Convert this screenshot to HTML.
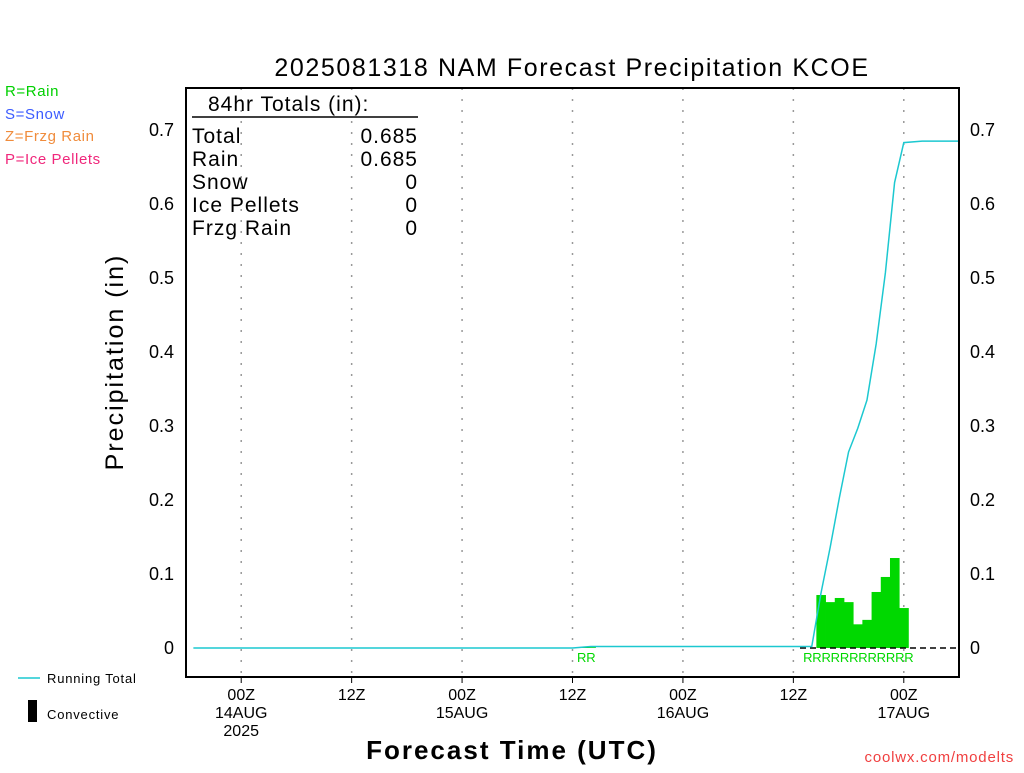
<!DOCTYPE html>
<html><head><meta charset="utf-8"><style>
body{margin:0;background:#fff;}
svg text{font-family:"Liberation Sans",sans-serif;}
</style></head><body>
<svg id="chart" width="1024" height="768" xmlns="http://www.w3.org/2000/svg">
<rect width="1024" height="768" fill="#fff"/>
<text x="572" y="76" font-size="25" text-anchor="middle" fill="#000" letter-spacing="1.6">2025081318 NAM Forecast Precipitation KCOE</text>
<text x="5" y="96" font-size="15" fill="#00d000" letter-spacing="0.6">R=Rain</text>
<text x="5" y="119" font-size="15" fill="#3c5cff" letter-spacing="0.6">S=Snow</text>
<text x="5" y="141" font-size="15" fill="#f08c3c" letter-spacing="0.6">Z=Frzg Rain</text>
<text x="5" y="164" font-size="15" fill="#f0287c" letter-spacing="0.6">P=Ice Pellets</text>
<g id="grid"></g>
<g id="bars"></g>
<line x1="800" y1="648" x2="959" y2="648" stroke="#000" stroke-width="1.5" stroke-dasharray="6,4"/>
<polyline id="total-line" fill="none" stroke="#1cc8d0" stroke-width="1.5"/>
<g id="ptype"></g>
<rect x="186" y="88" width="773" height="589" fill="none" stroke="#000" stroke-width="2"/>
<g id="yticks"></g>
<g id="xticks"></g>
<g font-size="21" fill="#000" letter-spacing="1">
<text x="208" y="111">84hr Totals (in):</text>
<line x1="192" y1="117" x2="418" y2="117" stroke="#000" stroke-width="1.5"/>
<text x="192" y="143">Total</text><text x="418" y="143" text-anchor="end">0.685</text>
<text x="192" y="166">Rain</text><text x="418" y="166" text-anchor="end">0.685</text>
<text x="192" y="189">Snow</text><text x="418" y="189" text-anchor="end">0</text>
<text x="192" y="212">Ice Pellets</text><text x="418" y="212" text-anchor="end">0</text>
<text x="192" y="235">Frzg Rain</text><text x="418" y="235" text-anchor="end">0</text>
</g>
<text transform="translate(123,362) rotate(-90)" font-size="25" text-anchor="middle" letter-spacing="2">Precipitation (in)</text>
<text x="512" y="759" font-size="26" text-anchor="middle" letter-spacing="2" font-weight="bold">Forecast Time (UTC)</text>
<line x1="18" y1="678" x2="40" y2="678" stroke="#1cc8d0" stroke-width="1.5"/>
<text x="47" y="683" font-size="13" letter-spacing="0.8">Running Total</text>
<rect x="28" y="700" width="9" height="22" fill="#000"/>
<text x="47" y="719" font-size="13" letter-spacing="0.8">Convective</text>
<text x="1014" y="762" font-size="15" text-anchor="end" fill="#f04040" letter-spacing="0.8">coolwx.com/modelts</text>
</svg>
<script>
const barHours=[43,44,69,70,71,72,73,74,75,76,77,78];
const barValues=[0.001,0.001,0.0716,0.062,0.0676,0.062,0.032,0.038,0.0757,0.096,0.1216,0.054];
const totalHours=[0.8,42,43,44,68,69,70,71,72,73,74,75,76,77,78,80,84];
const totalValues=[0,0,0.001,0.002,0.002,0.074,0.136,0.203,0.265,0.297,0.335,0.411,0.507,0.629,0.683,0.685,0.685];
const yTicks=[0,0.1,0.2,0.3,0.4,0.5,0.6,0.7];
const yTickLabels=["0","0.1","0.2","0.3","0.4","0.5","0.6","0.7"];
const xTickHours=[6,18,30,42,54,66,78];
const xTickLabels=[["00Z","14AUG","2025"],["12Z"],["00Z","15AUG"],["12Z"],["00Z","16AUG"],["12Z"],["00Z","17AUG"]];
const ptypeHours=[43,44,68,69,70,71,72,73,74,75,76,77,78,79];
const ptypeLabels=["R","R","R","R","R","R","R","R","R","R","R","R","R","R"];
const NS="http://www.w3.org/2000/svg";
const X=h=>186+h*(773/84);
const Y=v=>648-v*740;
function mk(t,a,p){const e=document.createElementNS(NS,t);for(const k in a)e.setAttribute(k,a[k]);p.appendChild(e);return e;}
const grid=document.getElementById('grid'),bars=document.getElementById('bars'),yt=document.getElementById('yticks'),xt=document.getElementById('xticks'),pt=document.getElementById('ptype');
xTickHours.forEach((h,i)=>{
 const l=mk('line',{x1:X(h),x2:X(h),y1:88,y2:677,stroke:'#999','stroke-width':1.5,'stroke-dasharray':'2,9'},grid);
 
 
 const t=mk('line',{x1:X(h),x2:X(h),y1:677,y2:683,stroke:'#000'},xt);
 
 
 xTickLabels[i].forEach((s,j)=>{const tx=mk('text',{x:X(h),y:700+j*18,'font-size':16,'text-anchor':'middle'},xt);tx.textContent=s;
  
  });
});
yTicks.forEach((v,i)=>{
 const a=mk('text',{x:174,y:Y(v)+6,'font-size':18,'text-anchor':'end'},yt);a.textContent=yTickLabels[i];
 
 
 const b=mk('text',{x:970,y:Y(v)+6,'font-size':18},yt);b.textContent=yTickLabels[i];
 
 
});
const bw=773/84;
barHours.forEach((h,i)=>{
 const r=mk('rect',{x:X(h)-bw/2,y:Y(barValues[i]),width:bw+0.4,height:Y(0)-Y(barValues[i]),fill:'#00d800'},bars);
 
 
});
document.getElementById('total-line').setAttribute('points',totalHours.map((h,i)=>X(h)+','+Y(totalValues[i])).join(' '));
const ptypeX0={};
ptypeHours.forEach((h,i)=>{
 const t=mk('text',{x:X(h)-(h>60?4:0),y:662,'font-size':13,'text-anchor':'middle',fill:'#00d800'},pt);t.textContent=ptypeLabels[i];
 
 
});
</script>
</body></html>
